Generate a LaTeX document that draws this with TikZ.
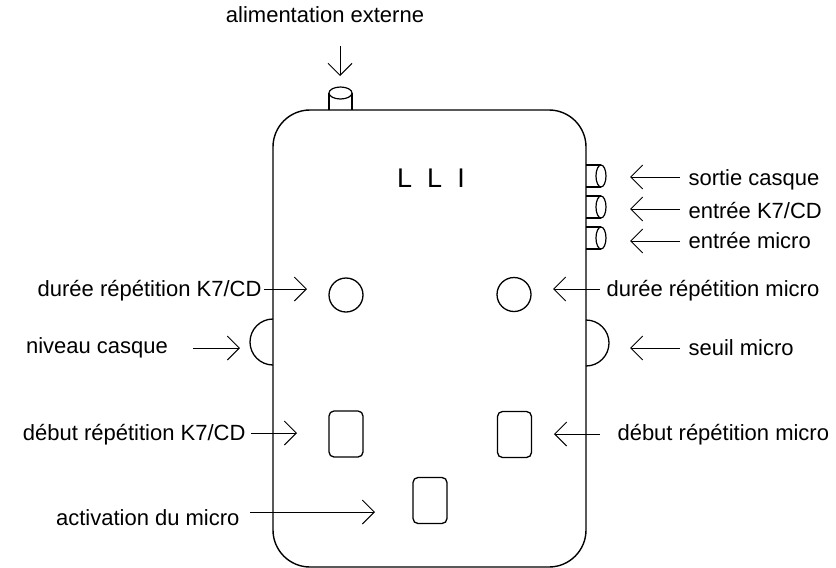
\documentclass[tikz,border=0pt]{standalone}
\usepackage{fontspec}
\setmainfont{Liberation Sans}
\usetikzlibrary{arrows.meta}

\begin{document}
\begin{tikzpicture}[x=1pt, y=-1pt, font=\fontsize{22}{26}\selectfont,
    fleche/.style={-{Straight Barb[length=12pt, width=24pt]}, line width=1pt},
    bouton/.style={draw, line width=1.3pt, rounded corners=5pt, minimum width=34pt, minimum height=46pt, inner sep=0pt},
    molette/.style={draw, circle, line width=1.3pt, minimum size=34pt, inner sep=0pt}]

                \useasboundingbox (0,0) rectangle (836,568);

                % boitier
                \draw[line width=1.4pt, rounded corners=37pt] (273,110) rectangle (586,567);
                \node[font=\fontsize{27}{30}\selectfont] (titre) at (431,178) {L\ \ L\ \ I};

                % prise alimentation
                \draw[line width=1.2pt] (329,110) -- (329,93) (352,110) -- (352,93);
                \draw[line width=1.2pt, fill=white] (340.5,93) ellipse (11.5 and 6);

                % prises jack
                \foreach \y in {176, 207, 238} {
                    \draw[line width=1.2pt] (586,\y-11) -- (601,\y-11) (586,\y+11) -- (601,\y+11);
                    \draw[line width=1.2pt, fill=white] (601,\y) ellipse (5 and 11);
                }

                % potentiometres
                \draw[line width=1.3pt] (273,319) arc[start angle=270, end angle=90, radius=23];
                \draw[line width=1.3pt] (586,320) arc[start angle=270, end angle=450, radius=23];

                \node[molette] (dureeK7) at (346,295) {};
                \node[molette] (dureeMic) at (514,294.5) {};

                \node[bouton] (debutK7) at (346,434) {};
                \node[bouton] (debutMic) at (514.5,434.5) {};
                \node[bouton] (activMic) at (430,500.5) {};

                % textes
                \node (lblAlim) at (325,15) {alimentation externe};
                \node[anchor=west] (lblCasque) at (685,180) {sortie casque};
                \node[anchor=west] (lblEntK7) at (685,211) {entrée K7/CD};
                \node[anchor=west] (lblEntMic) at (685,241) {entrée micro};
                \node[anchor=east] (lblDureeK7) at (265,291) {durée répétition K7/CD};
                \node[anchor=west] (lblDureeMic) at (603,291) {durée répétition micro};
                \node (lblNiveau) at (97,348) {niveau casque};
                \node[anchor=west] (lblSeuil) at (685,348) {seuil micro};
                \node[anchor=east] (lblDebutK7) at (249,435) {début répétition K7/CD};
                \node[anchor=west] (lblDebutMic) at (614,435) {début répétition micro};
                \node[anchor=east] (lblActiv) at (243,518) {activation du micro};

                % fleches
                \path (340,46) coordinate (a1);
                \path (340,76) coordinate (a2);
                \path (680,177) coordinate (b1);
                \path (630,177) coordinate (b2);
                \path (680,209) coordinate (c1);
                \path (630,209) coordinate (c2);
                \path (680,241) coordinate (d1);
                \path (630,241) coordinate (d2);
                \path (264,289) coordinate (e1);
                \path (307,289) coordinate (e2);
                \path (600,289) coordinate (f1);
                \path (553,289) coordinate (f2);
                \path (193,348) coordinate (g1);
                \path (240,348) coordinate (g2);
                \path (680,348) coordinate (h1);
                \path (630,348) coordinate (h2);
                \path (251,433) coordinate (i1);
                \path (297,433) coordinate (i2);
                \path (600,434) coordinate (j1);
                \path (554,434) coordinate (j2);
                \path (250,512) coordinate (k1);
                \path (375,512) coordinate (k2);

                \draw[fleche] (a1) -- (a2);
                \draw[fleche] (b1) -- (b2);
                \draw[fleche] (c1) -- (c2);
                \draw[fleche] (d1) -- (d2);
                \draw[fleche] (e1) -- (e2);
                \draw[fleche] (f1) -- (f2);
                \draw[fleche] (g1) -- (g2);
                \draw[fleche] (h1) -- (h2);
                \draw[fleche] (i1) -- (i2);
                \draw[fleche] (j1) -- (j2);
                \draw[fleche] (k1) -- (k2);
            \end{tikzpicture}
\end{document}
